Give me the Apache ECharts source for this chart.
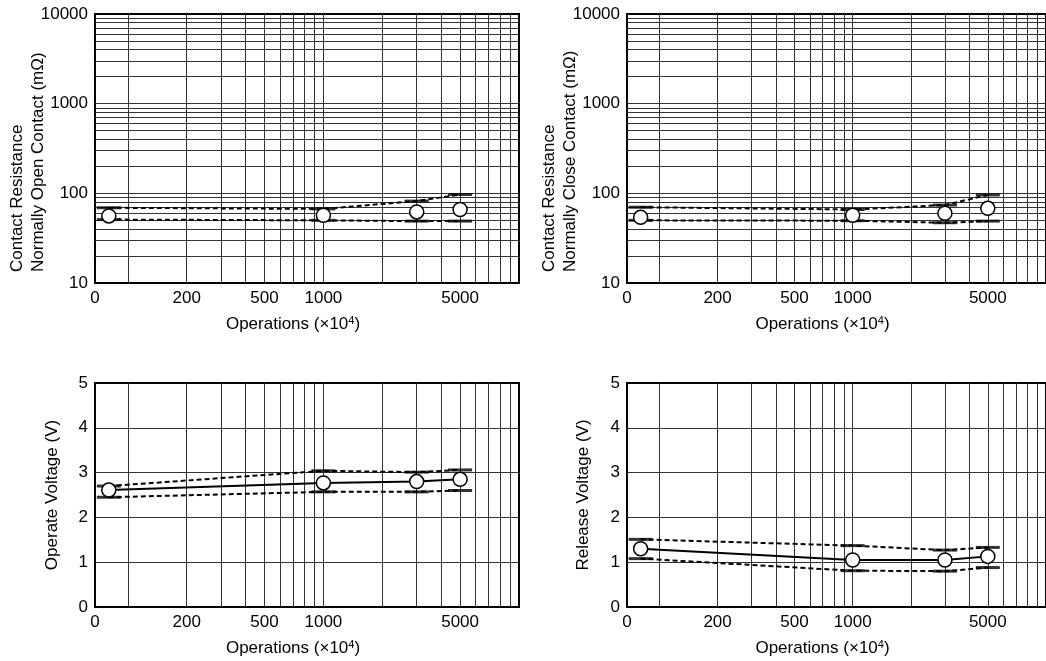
<!DOCTYPE html>
<html>
<head>
<meta charset="utf-8">
<title>Relay life test</title>
<script src="https://cdn.jsdelivr.net/npm/echarts@6.0.0/dist/echarts.min.js"></script>
<style>
  html, body { margin: 0; padding: 0; background: #fff; }
  #chart { width: 1046px; height: 661px; }
</style>
</head>
<body>
<div id="chart"></div>
<script>
// operations (x10^4); the first point is the initial measurement ("0")
var opsX = [80, 1000, 3000, 5000];

// x axis: log scale, left edge is labelled "0"
var xMin = 68;
var xMax = 10000;
var xLabelValues = [68.01, 200, 500, 1000, 5000];
var xGridValues = [100, 200, 300, 400, 500, 600, 700, 800, 900, 1000,
  2000, 3000, 4000, 5000, 6000, 7000, 8000, 9000];

// y axis for contact resistance (mΩ), log
var resGridValues = [20, 30, 40, 50, 60, 70, 80, 90, 100, 200, 300, 400, 500, 600, 700, 800, 900,
  1000, 2000, 3000, 4000, 5000, 6000, 7000, 8000, 9000];
// y axis for voltages (V)
var voltGridValues = [1, 2, 3, 4];

// contact resistance, normally open contact (mΩ)
var noMean = [56, 57, 62, 66];
var noMax = [69, 67, 82, 97];
var noMin = [51, 50, 49, 49];

// contact resistance, normally close contact (mΩ)
var ncMean = [54, 57, 60, 68];
var ncMax = [70, 66, 74, 96];
var ncMin = [50, 49.5, 47, 49];

// operate voltage (V)
var opMean = [2.61, 2.77, 2.80, 2.85];
var opMax = [2.70, 3.04, 3.01, 3.06];
var opMin = [2.45, 2.57, 2.57, 2.60];

// release voltage (V)
var relMean = [1.30, 1.05, 1.05, 1.13];
var relMax = [1.51, 1.37, 1.27, 1.33];
var relMin = [1.08, 0.81, 0.80, 0.88];

var FONT = '"Liberation Sans", Arial, Helvetica, sans-serif';
var FS = 17;

var grids = [
  { left: 95, top: 14, width: 424, height: 269 },
  { left: 627, top: 14, width: 424, height: 269 },
  { left: 95, top: 383, width: 424, height: 224 },
  { left: 627, top: 383, width: 424, height: 224 }
];

function pairs(ys) {
  return opsX.map(function (x, i) { return [x, ys[i]]; });
}

function xAxisFor(i) {
  return {
    type: 'log',
    gridIndex: i,
    min: xMin,
    max: xMax,
    axisLine: { show: false },
    axisTick: { show: false, customValues: xGridValues },
    splitLine: { show: true, lineStyle: { color: '#333', width: 1 } },
    axisLabel: {
      customValues: xLabelValues,
      margin: 7,
      color: '#000',
      fontFamily: FONT,
      fontSize: FS,
      formatter: function (v) { return v < 100 ? '0' : String(Math.round(v)); }
    },
    name: 'Operations (×10{s|4})',
    nameLocation: 'middle',
    nameGap: 32,
    nameTextStyle: {
      color: '#000',
      fontFamily: FONT,
      fontSize: FS,
      padding: [0, 28, 0, 0],
      rich: {
        s: { fontSize: 11, fontFamily: FONT, color: '#000', verticalAlign: 'top', padding: [0, 0, 8, 0] }
      }
    }
  };
}

function yAxisFor(i) {
  var isRes = i < 2;
  var ax = {
    gridIndex: i,
    axisLine: { show: false },
    axisTick: { show: false, customValues: isRes ? resGridValues : voltGridValues },
    splitLine: { show: true, lineStyle: { color: '#333', width: 1 } },
    axisLabel: {
      margin: 7, color: '#000', fontFamily: FONT, fontSize: FS,
      formatter: function (v) { return String(v); }
    }
  };
  if (isRes) {
    ax.type = 'log';
    ax.min = 10;
    ax.max = 10000;
  } else {
    ax.type = 'value';
    ax.min = 0;
    ax.max = 5;
    ax.interval = 1;
  }
  return ax;
}

function panelSeries(i, mean, max, min, meanLine) {
  var dash = { color: '#000', width: 2, type: [5, 3] };
  var caps = pairs(max).concat(pairs(min));
  return [
    {
      type: 'line', xAxisIndex: i, yAxisIndex: i, data: pairs(max),
      symbol: 'none', lineStyle: dash, z: 3
    },
    {
      type: 'line', xAxisIndex: i, yAxisIndex: i, data: pairs(min),
      symbol: 'none', lineStyle: dash, z: 3
    },
    {
      type: 'scatter', xAxisIndex: i, yAxisIndex: i, data: caps,
      symbol: 'rect', symbolSize: [24, 3],
      itemStyle: { color: '#000' }, clip: false, z: 4
    },
    {
      type: 'line', xAxisIndex: i, yAxisIndex: i, data: pairs(mean),
      symbol: 'circle', symbolSize: 14, showSymbol: true,
      lineStyle: { color: '#000', width: 2, opacity: meanLine ? 1 : 0 },
      itemStyle: { color: '#fff', borderColor: '#000', borderWidth: 1.5 },
      z: 5
    }
  ];
}

function yTitle(x, y, text) {
  return {
    type: 'text',
    x: x,
    y: y,
    rotation: Math.PI / 2,
    style: {
      text: text,
      font: FS + 'px ' + FONT,
      fill: '#000',
      align: 'left',
      textAlign: 'left',
      verticalAlign: 'top',
      textVerticalAlign: 'top',
      lineHeight: 21
    }
  };
}

function yTitleCenter(x, y, text) {
  return {
    type: 'text',
    x: x,
    y: y,
    rotation: Math.PI / 2,
    style: {
      text: text,
      font: FS + 'px ' + FONT,
      fill: '#000',
      align: 'center',
      textAlign: 'center',
      verticalAlign: 'middle',
      textVerticalAlign: 'middle'
    }
  };
}

var chart = echarts.init(document.getElementById('chart'), null, { renderer: 'canvas' });

chart.setOption({
  animation: false,
  backgroundColor: '#fff',
  grid: grids.map(function (g) {
    return {
      left: g.left, top: g.top, width: g.width, height: g.height,
      show: true, borderColor: '#000', borderWidth: 2, containLabel: false
    };
  }),
  xAxis: [0, 1, 2, 3].map(xAxisFor),
  yAxis: [0, 1, 2, 3].map(yAxisFor),
  series: []
    .concat(panelSeries(0, noMean, noMax, noMin, false))
    .concat(panelSeries(1, ncMean, ncMax, ncMin, false))
    .concat(panelSeries(2, opMean, opMax, opMin, true))
    .concat(panelSeries(3, relMean, relMax, relMin, true)),
  graphic: [
    yTitle(7, 272, 'Contact Resistance\nNormally Open Contact (mΩ)'),
    yTitle(539, 272, 'Contact Resistance\nNormally Close Contact (mΩ)'),
    yTitleCenter(52, 495, 'Operate Voltage (V)'),
    yTitleCenter(583, 495, 'Release Voltage (V)')
  ]
});
</script>
</body>
</html>
